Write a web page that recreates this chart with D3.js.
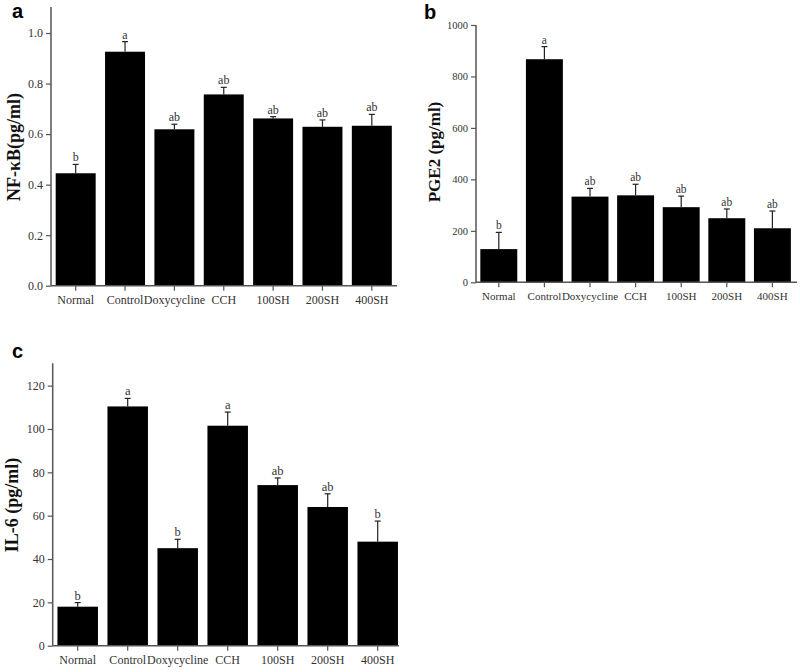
<!DOCTYPE html>
<html>
<head>
<meta charset="utf-8">
<script src="https://cdn.jsdelivr.net/npm/d3@7"></script>
<style>
html,body{margin:0;padding:0;background:#fff;}
svg{display:block;}
</style>
</head>
<body>
<svg id="chart" width="800" height="672"></svg>
<script>
const categories = ["Normal", "Control", "Doxycycline", "CCH", "100SH", "200SH", "400SH"];

const nfkbValues = [0.445, 0.926, 0.619, 0.757, 0.662, 0.629, 0.633];
const nfkbErrors = [0.035, 0.040, 0.020, 0.028, 0.007, 0.027, 0.045];
const nfkbLetters = ["b", "a", "ab", "ab", "ab", "ab", "ab"];
const nfkbTicks = [0, 0.2, 0.4, 0.6, 0.8, 1.0];

const pge2Values = [129, 867, 333, 338, 292, 249, 210];
const pge2Errors = [65, 49, 32, 43, 43, 36, 67];
const pge2Letters = ["b", "a", "ab", "ab", "ab", "ab", "ab"];
const pge2Ticks = [0, 200, 400, 600, 800, 1000];

const il6Values = [18.0, 110.4, 45.0, 101.5, 74.1, 64.0, 48.0];
const il6Errors = [1.9, 3.7, 4.1, 6.3, 3.3, 6.1, 9.5];
const il6Letters = ["b", "a", "b", "a", "ab", "ab", "b"];
const il6Ticks = [0, 20, 40, 60, 80, 100, 120];

const svg = d3.select("#chart");
const axisColor = "#555";
const textColor = "#333";

function drawPanel(p) {
  const g = svg.append("g");
  const x = d3.scaleBand().domain(categories).range([p.x0, p.x1])
    .paddingInner(0.19).paddingOuter(0.095);
  const y = d3.scaleLinear().domain(p.domain).range([p.y0, p.y1]);

  // bars
  g.selectAll("rect.bar").data(categories).enter().append("rect")
    .attr("class", "bar")
    .attr("x", d => x(d))
    .attr("width", x.bandwidth())
    .attr("y", (d, i) => y(p.values[i]))
    .attr("height", (d, i) => y(0) - y(p.values[i]))
    .attr("fill", "#000");

  // error bars
  const capW = 6;
  categories.forEach((c, i) => {
    const cx = x(c) + x.bandwidth() / 2;
    const top = y(p.values[i] + p.errors[i]);
    g.append("line").attr("x1", cx).attr("x2", cx)
      .attr("y1", y(p.values[i])).attr("y2", top)
      .attr("stroke", "#222").attr("stroke-width", 1.2);
    g.append("line").attr("x1", cx - capW / 2).attr("x2", cx + capW / 2)
      .attr("y1", top).attr("y2", top)
      .attr("stroke", "#222").attr("stroke-width", 1.2);
    g.append("text").attr("x", cx).attr("y", top - 3)
      .attr("text-anchor", "middle")
      .attr("font-family", "'Liberation Serif','Times New Roman',serif")
      .attr("font-size", p.letterSize)
      .attr("fill", textColor)
      .text(p.letters[i]);
  });

  // y axis
  const yAxis = d3.axisLeft(y).tickValues(p.ticks).tickSize(5).tickSizeOuter(0)
    .tickFormat(p.fmt);
  const ya = g.append("g").attr("transform", `translate(${p.x0},0)`).call(yAxis);
  ya.select(".domain").attr("stroke", axisColor).attr("stroke-width", 1.5)
    .attr("d", `M0,${p.axisTop}V${p.y0}`);
  ya.selectAll(".tick line").attr("stroke", axisColor).attr("stroke-width", 1.2);
  ya.selectAll(".tick text")
    .attr("font-family", "'Liberation Serif','Times New Roman',serif")
    .attr("font-size", p.tickSize).attr("fill", textColor).attr("x", -8);

  // x axis
  const xAxis = d3.axisBottom(x).tickSize(5).tickSizeOuter(0);
  const xa = g.append("g").attr("transform", `translate(0,${p.y0})`).call(xAxis);
  xa.select(".domain").attr("stroke", axisColor).attr("stroke-width", 1.5)
    .attr("d", `M${p.x0},0H${p.axisRight}`);
  xa.selectAll(".tick line").attr("stroke", axisColor).attr("stroke-width", 1.2);
  xa.selectAll(".tick text")
    .attr("font-family", "'Liberation Serif','Times New Roman',serif")
    .attr("font-size", p.catSize).attr("fill", textColor).attr("y", 10);

  // y label
  g.append("text")
    .attr("transform", `translate(${p.labelX},${p.labelY}) rotate(-90)`)
    .attr("text-anchor", "middle")
    .attr("font-family", "'Liberation Serif','Times New Roman',serif")
    .attr("font-weight", "bold")
    .attr("font-size", p.labelSize)
    .attr("fill", "#111")
    .text(p.label);

  // panel letter
  g.append("text").attr("x", p.letterX).attr("y", p.letterY)
    .attr("font-family", "'Liberation Sans',Arial,sans-serif")
    .attr("font-weight", "bold").attr("font-size", 20).attr("fill", "#000")
    .text(p.panel);
}

drawPanel({
  panel: "a", letterX: 12, letterY: 18,
  x0: 51, x1: 396.5, y0: 285.7, y1: 7, axisTop: 7, axisRight: 397,
  domain: [0, 1.103], values: nfkbValues, errors: nfkbErrors, letters: nfkbLetters,
  ticks: nfkbTicks, fmt: d3.format(".1f"),
  tickSize: 12, catSize: 12, letterSize: 12, labelSize: 18,
  label: "NF-κB(pg/ml)", labelX: 20, labelY: 147
});

drawPanel({
  panel: "b", letterX: 424, letterY: 19,
  x0: 476, x1: 795.2, y0: 282.3, y1: 25, axisTop: 25, axisRight: 797,
  domain: [0, 1000], values: pge2Values, errors: pge2Errors, letters: pge2Letters,
  ticks: pge2Ticks, fmt: d3.format("d"),
  tickSize: 10.5, catSize: 11, letterSize: 11.5, labelSize: 17,
  label: "PGE2 (pg/ml)", labelX: 440, labelY: 152
});

drawPanel({
  panel: "c", letterX: 12, letterY: 358,
  x0: 52.7, x1: 402.7, y0: 645.7, y1: 363.3, axisTop: 363.3, axisRight: 399,
  domain: [0, 130.3], values: il6Values, errors: il6Errors, letters: il6Letters,
  ticks: il6Ticks, fmt: d3.format("d"),
  tickSize: 12, catSize: 12, letterSize: 12.5, labelSize: 18,
  label: "IL-6 (pg/ml)", labelX: 18, labelY: 505
});
</script>
</body>
</html>
